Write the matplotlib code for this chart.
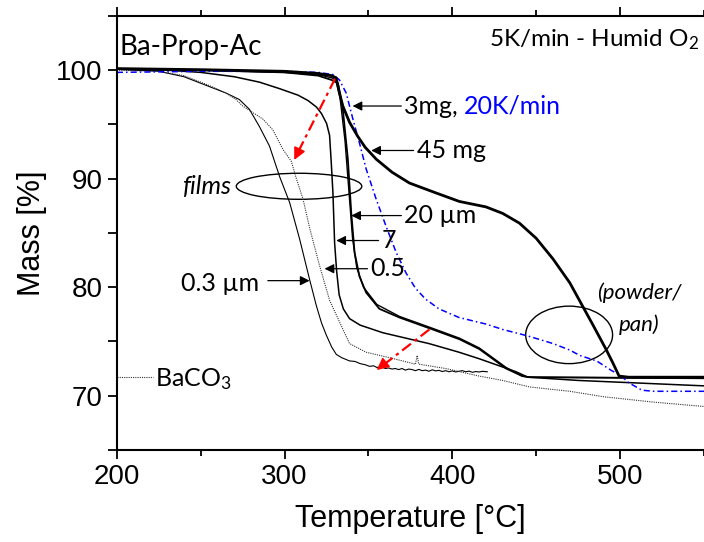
import matplotlib
matplotlib.use('Agg')
import matplotlib.pyplot as plt
from matplotlib.patches import Ellipse

plt.rcParams['mathtext.fontset'] = 'custom'
plt.rcParams['mathtext.rm'] = 'Lato'
plt.rcParams['mathtext.it'] = 'Lato:italic'

# --- data (temperature degC, mass %) ---
t_45mg = [200, 250, 300, 320, 328, 330.7, 332.7, 334.7, 338.7, 343.6, 348, 354.6, 364, 374.4, 390,
          404.2, 420, 430, 440, 450, 460, 470, 483.5, 491.5, 495.4, 499.4, 505, 550]
m_45mg = [100.15, 100.05, 99.9, 99.7, 99.5, 99.3, 97.9, 96.7, 95.2, 93.9, 92.9, 91.8, 90.6, 89.6, 88.7,
          87.9, 87.4, 86.8, 85.9, 84.5, 82.6, 80.4, 76.6, 74.3, 73.1, 71.8, 71.7, 71.7]

t_3mg = [200, 250, 300, 320, 328, 330.5, 333, 336, 338.5, 340.5, 343, 347, 355, 368.5, 388.3,
         404.2, 416, 432, 441.7, 446, 550]
m_3mg = [100.1, 100.0, 99.8, 99.6, 99.3, 99.1, 97.5, 93.5, 88.5, 84.5, 81.8, 80.0, 78.4, 77.3, 76.2,
         75.3, 74.4, 72.6, 71.8, 71.7, 71.6]

t_20um = [200, 250, 300, 320, 328, 331.8, 334.7, 337.7, 339.7, 341.7, 344.6, 348.6, 356.5, 368.5, 388.3,
          404.2, 416, 432, 441.7, 446, 550]
m_20um = [100.1, 100.0, 99.8, 99.5, 99.1, 98.8, 96.4, 91.8, 86.9, 83.2, 81.0, 79.5, 78.0, 77.2, 76.1,
          75.2, 74.3, 72.5, 71.8, 71.7, 71.6]

t_7um = [200, 230, 250, 270, 285, 297, 308, 314, 319, 322, 325, 326.8, 327.8, 328.8, 329.8, 331,
         332.5, 335, 338.7, 345, 358.5, 386, 404, 416, 438, 445, 475, 550]
m_7um = [100.1, 100.0, 99.8, 99.4, 98.9, 98.3, 97.7, 97.2, 96.6, 96.0, 95.1, 94.0, 91.5, 88.7, 84.1, 81.5,
         79.3, 78.0, 77.1, 76.5, 75.8, 74.8, 74.0, 73.4, 72.2, 71.7, 71.4, 70.9]

t_05um = [200, 225, 240, 255, 265, 271, 275, 287, 293, 299, 304, 307, 311, 315, 320.8, 326.8, 332.7,
          338.7, 348.6, 362.5, 378, 379, 380, 396, 416, 430, 446, 470, 490, 520, 550]
m_05um = [100.0, 99.9, 99.5, 98.6, 97.9, 97.3, 96.7, 95.5, 94.5, 92.7, 91.6, 90.0, 88.1, 85.4, 82.0, 78.8,
          76.8, 74.8, 74.0, 73.5, 72.9, 73.7, 72.9, 72.5, 71.8, 71.4, 70.8, 70.4, 69.9, 69.4, 69.0]

t_03um = [200, 225, 240, 255, 265, 273, 279, 285, 291, 297, 303, 309, 314.9, 318.9, 322, 324.8, 328,
          330.8, 334, 338.7, 342, 345, 348, 350.6, 353, 355, 358, 360, 362, 364, 366, 368, 370, 372,
          374, 376, 378, 380, 382, 384, 386, 388, 390, 392, 394, 396, 398, 400, 402, 404, 406, 408,
          410, 412, 414, 416, 418, 420.8]
m_03um = [100.1, 99.9, 99.4, 98.5, 97.9, 97.3, 96.4, 94.8, 93.0, 90.2, 87.8, 84.4, 80.7, 78.3, 76.7, 75.6,
          74.5, 73.8, 73.5, 73.2, 73.15, 72.95, 72.85, 72.7, 72.75, 72.6, 72.65, 72.5, 72.55, 72.45,
          72.5, 72.4, 72.5, 72.35, 72.45, 72.4, 72.3, 72.42, 72.3, 72.35, 72.25, 72.38, 72.28, 72.33,
          72.22, 72.3, 72.2, 72.28, 72.18, 72.25, 72.3, 72.2, 72.26, 72.15, 72.22, 72.18, 72.24, 72.2]

t_20K = [200, 250, 300, 320, 328.8, 332.7, 336.7, 340.7, 344.6, 348.6, 354.6, 360.5, 366.5, 372.4, 378,
         384, 392, 404, 420, 430, 445, 460, 470, 476, 486, 495, 500, 505, 513, 520, 550]
m_20K = [99.8, 99.9, 99.9, 99.8, 99.6, 99.1, 97.9, 95.5, 93.3, 90.9, 88.1, 85.6, 83.2, 81.3, 79.9,
         78.9, 78.0, 77.2, 76.6, 76.1, 75.5, 74.8, 74.2, 73.7, 73.2, 72.3, 71.9, 71.2, 70.5, 70.4, 70.4]

t_baco3 = [200, 221.4]
m_baco3 = [71.7, 71.7]

x_major = [200, 300, 400, 500]
x_minor = [250, 350, 450, 550]
y_major = [70, 80, 90, 100]
y_minor = [65, 75, 85, 95, 105]

tick_font = 'Liberation Sans'
note_font = 'Lato'

fig = plt.figure(figsize=(7.04, 5.42), dpi=100)
ax = fig.add_axes([0.166, 0.170, 0.834, 0.8005])

ax.plot(t_03um, m_03um, color='black', lw=0.8)
ax.plot(t_05um, m_05um, color='#333333', lw=0.8, linestyle=(0, (1, 1)))
ax.plot(t_baco3, m_baco3, color='#333333', lw=0.8, linestyle=(0, (1, 1)))
ax.plot(t_7um, m_7um, color='black', lw=1.1)
ax.plot(t_20um, m_20um, color='black', lw=1.3)
ax.plot(t_3mg, m_3mg, color='black', lw=1.0)
ax.plot(t_20K, m_20K, color='blue', lw=1.1, linestyle=(0, (4, 2, 1, 2)))
ax.plot(t_45mg, m_45mg, color='black', lw=2.0)

ax.set_xlim(200, 550)
ax.set_ylim(65, 105)
ax.set_xticks(x_major)
ax.set_xticks(x_minor, minor=True)
ax.set_yticks(y_major)
ax.set_yticks(y_minor, minor=True)
for lab in ax.get_xticklabels() + ax.get_yticklabels():
    lab.set_fontfamily(tick_font)
    lab.set_fontsize(20)
ax.tick_params(which='both', direction='out', top=True, width=1.3)
ax.tick_params(which='major', length=6.5, pad=4)
ax.tick_params(axis='x', which='minor', length=4.5)
ax.tick_params(axis='y', which='minor', length=6.5)
for s in ['left', 'bottom', 'top']:
    ax.spines[s].set_linewidth(1.5)
ax.spines['right'].set_visible(False)

ax.set_xlabel('Temperature [°C]', fontfamily=tick_font, fontsize=22, labelpad=10)
ax.set_ylabel('Mass [%]', fontfamily=tick_font, fontsize=22, labelpad=6)

# red dash-dot arrows
ax.plot([330, 307.5], [99.2, 92.3], color='red', lw=1.6, linestyle=(0, (5, 2, 1.5, 2)))
ax.annotate('', xy=(305, 91.5), xytext=(308.5, 92.6),
            arrowprops=dict(arrowstyle='-|>', color='red', lw=1.2, mutation_scale=18))
ax.plot([386.3, 357], [76.1, 72.6], color='red', lw=1.6, linestyle=(0, (5, 2, 1.5, 2)))
ax.annotate('', xy=(353.6, 72.2), xytext=(358, 72.75),
            arrowprops=dict(arrowstyle='-|>', color='red', lw=1.2, mutation_scale=18))

# black pointer arrows
arrows = [((369.6, 96.7), (340.5, 96.7)),
          ((376.9, 92.6), (351.6, 92.6)),
          ((369.6, 86.6), (339.7, 86.6)),
          ((356, 84.3), (330.8, 84.3)),
          ((349.4, 81.7), (323.8, 81.7)),
          ((290, 80.6), (314.9, 80.6))]
for tail, tip in arrows:
    ax.annotate('', xy=tip, xytext=tail,
                arrowprops=dict(arrowstyle='-|>', color='black', lw=0.9, mutation_scale=14,
                                shrinkA=0, shrinkB=0))

fs = 18
t1 = ax.text(371, 96.7, '3mg, ', fontfamily=note_font, fontsize=fs, va='center', ha='left')
ax.annotate('20K/min', xy=(1, 0), xycoords=t1, va='bottom', ha='left',
            fontfamily=note_font, fontsize=fs, color='blue')
ax.text(379, 92.6, '45 mg', fontfamily=note_font, fontsize=fs, va='center', ha='left')
ax.text(371, 86.6, '20 µm', fontfamily=note_font, fontsize=fs, va='center', ha='left')
ax.text(358, 84.3, '7', fontfamily=note_font, fontsize=fs, va='center', ha='left')
ax.text(351, 81.7, '0.5', fontfamily=note_font, fontsize=fs, va='center', ha='left')
ax.text(285, 80.3, '0.3 µm', fontfamily=note_font, fontsize=fs, va='center', ha='right')
ax.text(222.6, 71.5, 'BaCO$_3$', fontfamily=note_font, fontsize=fs, va='center', ha='left')
ax.text(201.8, 102.1, 'Ba-Prop-Ac', fontfamily=note_font, fontsize=20, va='center', ha='left')
ax.text(547, 102.8, '5K/min - Humid O$_2$', fontfamily=note_font, fontsize=17.5, va='center', ha='right')
ax.text(268.5, 89.3, 'films', fontfamily=note_font, fontsize=18, style='italic', va='center', ha='right')
ax.text(511.3, 79.5, '(powder/', fontfamily=note_font, fontsize=16, style='italic', va='center', ha='center')
ax.text(511.3, 76.5, 'pan)', fontfamily=note_font, fontsize=16, style='italic', va='center', ha='center')

ax.add_patch(Ellipse((308.6, 89.3), 74.8, 2.4, fill=False, lw=1.0, color='black'))
ax.add_patch(Ellipse((469.6, 75.6), 51.8, 5.3, fill=False, lw=1.0, color='black'))

fig.savefig('out.png', dpi=100)
